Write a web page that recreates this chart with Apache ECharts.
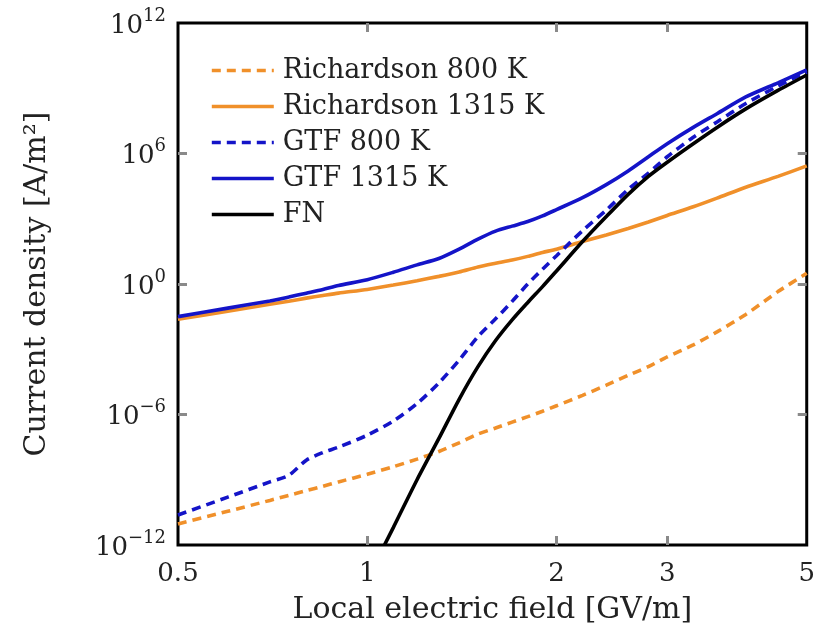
<!DOCTYPE html>
<html><head><meta charset="utf-8">
<script src="https://cdn.jsdelivr.net/npm/echarts@6/dist/echarts.min.js"></script>
<style>html,body{margin:0;padding:0;background:#fff}#c{width:818px;height:639px}</style>
</head><body><div id="c"></div><script>
// Local electric field [GV/m]
const fieldGV = [0.5,0.6,0.7,0.75,0.8,0.85,0.9,1.0,1.1,1.2,1.3,1.4,1.5,1.6,1.7,1.8,1.9,2.0,2.2,2.4,2.6,2.8,3.0,3.3,3.6,4.0,4.5,5.0];
// log10 of current density [A/m^2]
const richardson800Log  = [-11.03,-10.45,-9.95,-9.72,-9.5,-9.3,-9.1,-8.75,-8.4,-8.05,-7.7,-7.3,-6.9,-6.62,-6.35,-6.1,-5.85,-5.6,-5.12,-4.65,-4.2,-3.8,-3.35,-2.8,-2.2,-1.4,-0.35,0.49];
const richardson1315Log = [-1.62,-1.25,-0.93,-0.79,-0.65,-0.53,-0.42,-0.25,-0.05,0.15,0.35,0.55,0.78,0.95,1.1,1.27,1.45,1.6,1.95,2.25,2.55,2.85,3.15,3.55,3.95,4.45,4.95,5.43];
const gtf800Log  = [-10.62,-9.8,-9.1,-8.8,-8.1,-7.75,-7.5,-6.95,-6.3,-5.5,-4.55,-3.5,-2.42,-1.6,-0.8,0.0,0.68,1.3,2.45,3.4,4.35,5.1,5.85,6.75,7.45,8.3,9.1,9.75];
const gtf1315Log = [-1.5,-1.11,-0.78,-0.6,-0.42,-0.25,-0.07,0.2,0.54,0.88,1.17,1.6,2.06,2.43,2.66,2.87,3.13,3.42,3.97,4.57,5.2,5.85,6.45,7.2,7.83,8.6,9.25,9.84];
const fnField = [1.065,1.1,1.2,1.3,1.4,1.5,1.6,1.7,1.8,1.9,2.0,2.2,2.4,2.6,2.8,3.0,3.3,3.6,4.0,4.5,5.0];
const fnLog   = [-12.0,-11.2,-9.0,-7.1,-5.3,-3.8,-2.6,-1.65,-0.85,-0.12,0.6,1.95,3.1,4.12,4.95,5.6,6.45,7.2,8.05,8.9,9.61];

const seriesNames = ['Richardson 800 K','Richardson 1315 K','GTF 800 K','GTF 1315 K','FN'];
const xTickLabels = [0.5,1,2,3,5];
const xInnerTicks = [1,2,3];
const yTickValues = [1e-12,1e-6,1,1e6,1e12];
const yInnerTicks = [1e-6,1,1e6];

const ORANGE = '#f0902a', BLUE = '#1414c8', BLACK = '#000000';
const FONT = 'DejaVu Serif';

function pairs(xs, logs){ return xs.map((x,i)=>[x, Math.pow(10, logs[i])]); }

function mkSeries(name, xs, logs, color, dashed){
  return {
    name, type:'line', data: pairs(xs, logs), symbol:'none', showSymbol:false,
    smooth: 0.25, clip: true, xAxisIndex:0, yAxisIndex:0,
    lineStyle:{color, width:3.6, type: dashed ? [9,6] : 'solid'},
    itemStyle:{color}
  };
}

const tickStyle = {show:true, inside:true, length:9, lineStyle:{color:'#8a8a8a', width:3}};

const chart = echarts.init(document.getElementById('c'), null, {renderer:'canvas'});
chart.setOption({
  animation:false,
  backgroundColor:'#fff',
  grid:{left:178, right:9, top:23, bottom:94, show:true, borderColor:'#000', borderWidth:3, backgroundColor:'transparent'},
  legend:{
    orient:'vertical', left:205, top:52, itemWidth:62, itemHeight:14, itemGap:9,
    data: seriesNames,
    itemStyle:{opacity:0},
    lineStyle:{width:3.6},
    textStyle:{fontFamily:FONT, fontSize:27, color:'#222', padding:[0,0,0,4]}
  },
  xAxis:[{
    type:'log', logBase:10, min:0.5, max:5, position:'bottom',
    axisLine:{show:false}, splitLine:{show:false},
    axisTick:Object.assign({customValues:xInnerTicks}, tickStyle),
    axisLabel:{customValues:xTickLabels, margin:16, fontFamily:FONT, fontSize:26, color:'#222',
      formatter:(v)=>String(Math.round(v*10)/10)},
    name:'Local electric field [GV/m]', nameLocation:'middle', nameGap:50,
    nameTextStyle:{fontFamily:FONT, fontSize:30, color:'#222'}
  },{
    type:'log', logBase:10, min:0.5, max:5, position:'top',
    axisLine:{show:false}, splitLine:{show:false},
    axisTick:Object.assign({customValues:xInnerTicks}, tickStyle),
    axisLabel:{show:false}
  }],
  yAxis:[{
    type:'log', logBase:10, min:1e-12, max:1e12, position:'left',
    axisLine:{show:false}, splitLine:{show:false},
    axisTick:Object.assign({customValues:yInnerTicks}, tickStyle),
    axisLabel:{customValues:yTickValues, margin:12, color:'#222',
      formatter:(v)=>{ const e=Math.round(Math.log10(v)); return '{b|10}{s|'+(e<0?'\u2212'+(-e):e)+'}'; },
      rich:{
        b:{fontFamily:FONT, fontSize:26, color:'#222', verticalAlign:'bottom', lineHeight:32},
        s:{fontFamily:FONT, fontSize:18, color:'#222', verticalAlign:'bottom', lineHeight:32, padding:[0,0,14,0]}
      }},
    name:'Current density [A/m\u00b2]', nameLocation:'middle', nameGap:126, nameRotate:90,
    nameTextStyle:{fontFamily:FONT, fontSize:30, color:'#222'}
  },{
    type:'log', logBase:10, min:1e-12, max:1e12, position:'right',
    axisLine:{show:false}, splitLine:{show:false},
    axisTick:Object.assign({customValues:yInnerTicks}, tickStyle),
    axisLabel:{show:false}
  }],
  series:[
    mkSeries(seriesNames[0], fieldGV, richardson800Log, ORANGE, true),
    mkSeries(seriesNames[1], fieldGV, richardson1315Log, ORANGE, false),
    mkSeries(seriesNames[2], fieldGV, gtf800Log, BLUE, true),
    mkSeries(seriesNames[3], fieldGV, gtf1315Log, BLUE, false),
    mkSeries(seriesNames[4], fnField, fnLog, BLACK, false)
  ]
});
</script></body></html>
